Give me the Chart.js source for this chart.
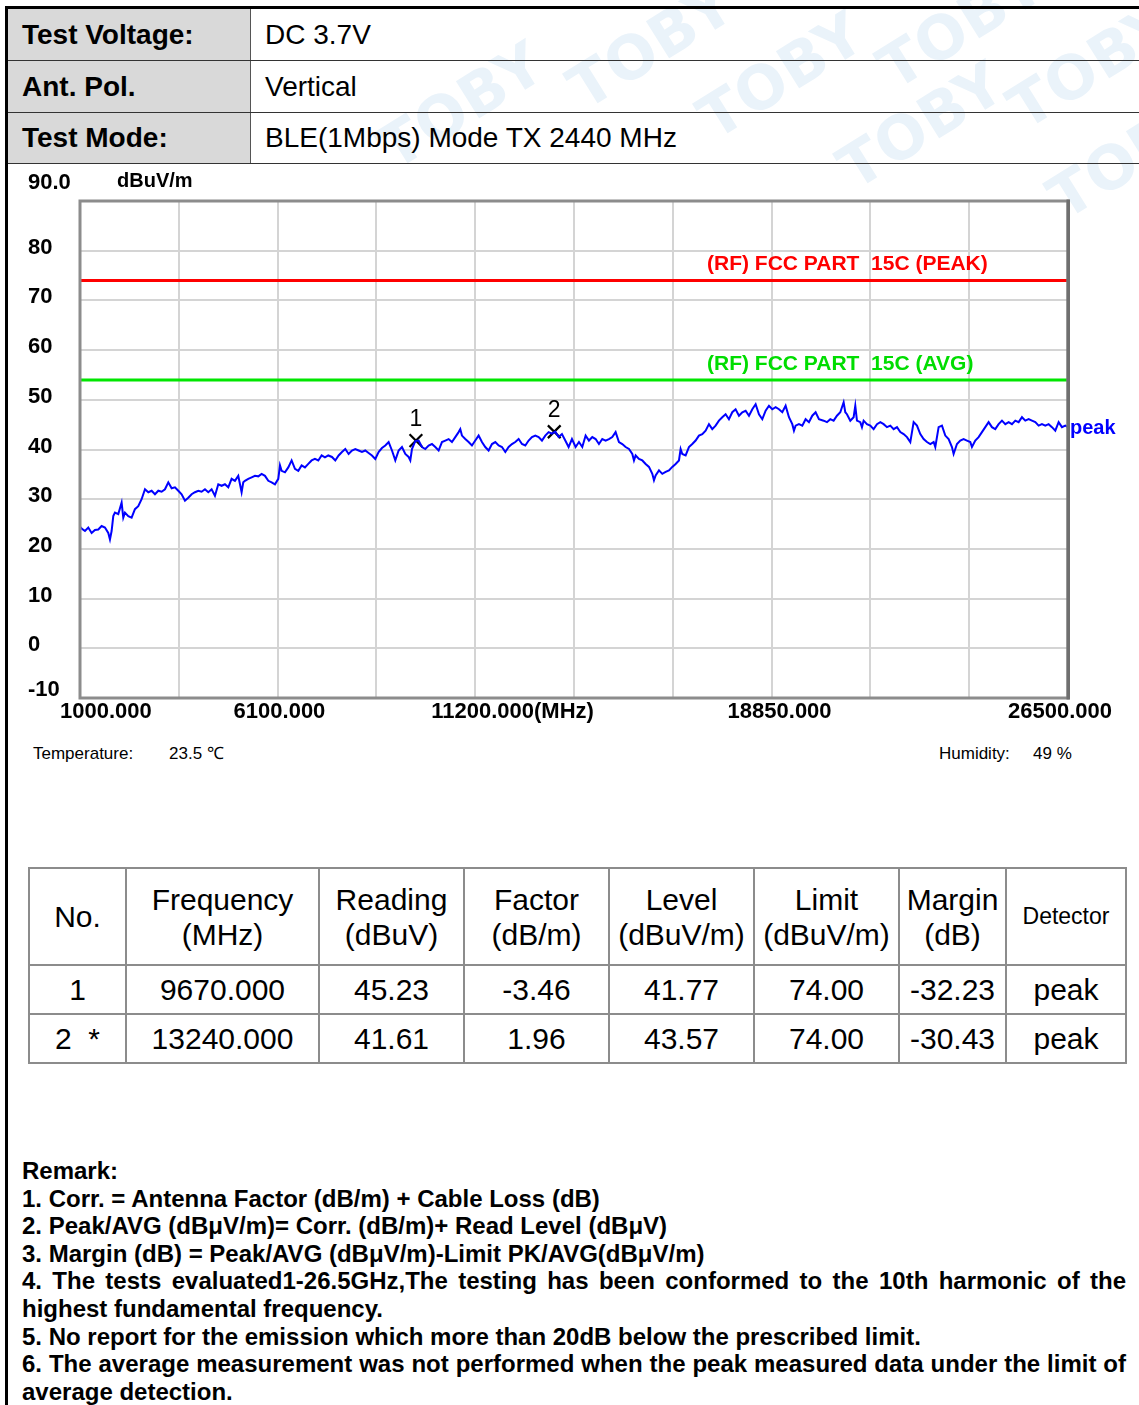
<!DOCTYPE html>
<html>
<head>
<meta charset="utf-8">
<title>Radiated emission - BLE 2440 MHz</title>
<script src="https://cdn.jsdelivr.net/npm/chart.js@4.4.0/dist/chart.umd.min.js"></script>
<style>
  body { margin: 0; width: 1139px; height: 1405px; overflow: hidden; background: #fff; position: relative; font-family: "Liberation Sans", Arial, sans-serif; color: #000; }
  .frame-left { position: absolute; left: 5px; top: 6px; width: 3px; height: 1399px; background: #000; z-index: 5; }
  .frame-top { position: absolute; left: 5px; top: 6px; width: 1134px; height: 3px; background: #000; z-index: 5; }
  .wm { position: absolute; font: bold 60px "DejaVu Sans", sans-serif; color: #eaf3fa; transform: rotate(-32deg); z-index: 0; letter-spacing: 1px; }
  .row { position: absolute; left: 8px; width: 1131px; height: 51px; border-bottom: 1px solid #333; z-index: 1; }
  .row .lab { position: absolute; left: 0; top: 0; width: 228px; height: 51px; padding-left: 14px; background: #d9d9d9; border-right: 1px solid #555; font: bold 28px "Liberation Sans", Arial, sans-serif; line-height: 51px; }
  .row .val { position: absolute; left: 243px; top: 0; padding-left: 14px; font: 28px "Liberation Sans", Arial, sans-serif; line-height: 51px; }
  #chartBox { position: absolute; left: 0; top: 163px; z-index: 2; }
  .env { position: absolute; top: 744px; font: 17px "Liberation Sans", Arial, sans-serif; line-height: 20px; }
  table.res { position: absolute; left: 28px; top: 867px; border-collapse: collapse; font: 30px "Liberation Sans", Arial, sans-serif; }
  table.res td { border: 2px solid #8c8c8c; text-align: center; padding: 0; white-space: pre; }
  table.res tr.head td { height: 95px; line-height: 35px; }
  table.res tr.data td { height: 47px; }
  table.res td.det { font-size: 23px; }
  .remarks { position: absolute; left: 22px; top: 1157px; width: 1104px; font: bold 24px "Liberation Sans", Arial, sans-serif; line-height: 27.6px; }
  .remarks .j { text-align: justify; text-align-last: justify; }
</style>
</head>
<body>
<div class="frame-left"></div>
<div class="frame-top"></div>

<div class="wm" style="left:370px; top:70px;">TOBY</div>
<div class="wm" style="left:560px; top:10px;">TOBY</div>
<div class="wm" style="left:690px; top:40px;">TOBY</div>
<div class="wm" style="left:830px; top:90px;">TOBY</div>
<div class="wm" style="left:870px; top:-10px;">TOBY</div>
<div class="wm" style="left:1000px; top:30px;">TOBY</div>
<div class="wm" style="left:1040px; top:120px;">TOBY</div>

<div class="row" style="top:9px;"><div class="lab">Test Voltage:</div><div class="val">DC 3.7V</div></div>
<div class="row" style="top:61px;"><div class="lab">Ant. Pol.</div><div class="val">Vertical</div></div>
<div class="row" style="top:113px; height:50px;"><div class="lab" style="height:50px; line-height:50px;">Test Mode:</div><div class="val" style="line-height:50px;">BLE(1Mbps) Mode TX 2440 MHz</div></div>

<canvas id="chartBox" width="1139" height="600"></canvas>

<div class="env" style="left:33px;">Temperature:</div>
<div class="env" style="left:169px;">23.5 ℃</div>
<div class="env" style="left:939px;">Humidity:</div>
<div class="env" style="left:1033px;">49 %</div>

<table class="res" id="resTable"></table>

<div class="remarks">
  <div>Remark:</div>
  <div>1. Corr. = Antenna Factor (dB/m) + Cable Loss (dB)</div>
  <div>2. Peak/AVG (dBμV/m)= Corr. (dB/m)+ Read Level (dBμV)</div>
  <div>3. Margin (dB) = Peak/AVG (dBμV/m)-Limit PK/AVG(dBμV/m)</div>
  <div class="j">4. The tests evaluated1-26.5GHz,The testing has been conformed to the 10th harmonic of the</div>
  <div>highest fundamental frequency.</div>
  <div>5. No report for the emission which more than 20dB below the prescribed limit.</div>
  <div class="j">6. The average measurement was not performed when the peak measured data under the limit of</div>
  <div>average detection.</div>
</div>

<script>
// axis range and tick labels
const xMin = 1000;
const xMax = 26500;
const xGridStep = 2550;
const xLabelValues = [1000, 6100, 11200, 18850, 26500];
const xLabelTexts = ["1000.000", "6100.000", "11200.000(MHz)", "18850.000", "26500.000"];
const yMin = -10;
const yMax = 90;
const yLabelValues = [90, 80, 70, 60, 50, 40, 30, 20, 10, 0, -10];
const yLabelTexts = ["90.0", "80", "70", "60", "50", "40", "30", "20", "10", "0", "-10"];

// limit lines (dBuV/m)
const peakLimit = 74;
const avgLimit = 54;

// peak trace: frequency (MHz) and level (dBuV/m)
const freqs = [
  1000, 1042, 1128, 1214, 1300, 1386, 1472, 1558, 1644, 1730, 1773, 1816, 1859, 1902, 1988, 2074, 2117, 2160, 2246, 2332,
  2418, 2504, 2590, 2677, 2763, 2849, 2935, 3021, 3107, 3193, 3279, 3365, 3451, 3537, 3623, 3709, 3795, 3881, 3967, 4053,
  4139, 4225, 4311, 4397, 4483, 4569, 4655, 4741, 4827, 4913, 4999, 5085, 5171, 5214, 5257, 5343, 5430, 5516, 5602, 5688,
  5774, 5860, 5946, 6032, 6118, 6161, 6204, 6290, 6376, 6462, 6548, 6634, 6720, 6806, 6892, 6978, 7064, 7150, 7236, 7322,
  7408, 7503, 7589, 7675, 7761, 7847, 7933, 8019, 8105, 8191, 8277, 8363, 8449, 8535, 8621, 8707, 8793, 8880, 8966, 9052,
  9138, 9224, 9310, 9396, 9482, 9525, 9568, 9654, 9740, 9826, 9912, 9998, 10084, 10170, 10256, 10342, 10428, 10514, 10600, 10686,
  10772, 10815, 10858, 10944, 11030, 11116, 11202, 11288, 11374, 11460, 11546, 11633, 11719, 11805, 11891, 11977, 12063, 12149, 12235, 12321,
  12407, 12493, 12579, 12665, 12751, 12837, 12923, 13009, 13095, 13181, 13267, 13353, 13439, 13525, 13611, 13697, 13792, 13878, 13964, 14050,
  14136, 14222, 14308, 14394, 14480, 14566, 14652, 14738, 14824, 14910, 14996, 15082, 15169, 15255, 15298, 15341, 15427, 15513, 15599, 15685,
  15771, 15814, 15857, 15943, 16029, 16115, 16201, 16287, 16373, 16459, 16502, 16545, 16631, 16717, 16803, 16889, 16975, 17061, 17147, 17233,
  17319, 17405, 17491, 17577, 17663, 17749, 17835, 17921, 18008, 18094, 18180, 18266, 18352, 18438, 18524, 18610, 18696, 18782, 18868, 18954,
  19040, 19126, 19212, 19298, 19384, 19427, 19470, 19556, 19642, 19728, 19814, 19900, 19986, 20072, 20193, 20279, 20365, 20451, 20537, 20623,
  20709, 20752, 20795, 20881, 20967, 21010, 21053, 21139, 21182, 21225, 21311, 21397, 21483, 21570, 21656, 21742, 21828, 21914, 22000, 22086,
  22172, 22258, 22344, 22430, 22516, 22602, 22688, 22774, 22860, 22946, 23032, 23075, 23161, 23247, 23333, 23419, 23505, 23548, 23634, 23720,
  23806, 23892, 23978, 24021, 24107, 24193, 24279, 24365, 24451, 24537, 24623, 24709, 24796, 24882, 24968, 25054, 25140, 25226, 25312, 25398,
  25484, 25570, 25656, 25742, 25828, 25914, 26000, 26086, 26172, 26258, 26344, 26430, 26500
];
const levels = [
  24.5, 24.1, 23.6, 24.3, 23.2, 23.8, 23.9, 24.6, 24.3, 23.2, 21.9, 23.6, 26.6, 27.3, 27.0, 29.3, 26.3, 27.3, 26.6, 26.3,
  28.0, 28.6, 30.0, 32.0, 31.4, 31.7, 31.0, 31.7, 31.5, 32.0, 33.4, 32.2, 32.4, 31.7, 31.0, 29.7, 30.3, 31.0, 31.4, 31.7,
  31.5, 32.0, 31.4, 32.0, 30.7, 33.0, 32.7, 33.0, 32.4, 34.1, 33.7, 34.7, 31.4, 33.4, 33.7, 34.1, 34.4, 34.7, 34.6, 35.1,
  34.7, 33.7, 33.4, 33.0, 34.1, 36.8, 35.7, 35.4, 36.4, 37.8, 36.1, 35.7, 36.8, 36.4, 37.1, 37.8, 38.1, 37.8, 38.8, 38.4,
  38.8, 38.5, 37.8, 38.8, 39.5, 40.1, 39.1, 39.8, 40.1, 39.8, 39.5, 39.8, 39.3, 38.8, 38.1, 39.5, 40.3, 40.8, 41.5, 39.8,
  37.8, 39.8, 40.5, 39.1, 38.5, 37.8, 40.1, 41.7, 41.8, 40.5, 40.1, 40.8, 41.1, 40.5, 39.8, 41.5, 41.8, 42.1, 41.5, 42.5,
  43.5, 44.1, 42.8, 42.1, 41.5, 40.8, 41.8, 42.8, 41.5, 40.5, 39.8, 41.1, 41.5, 40.8, 40.5, 39.5, 40.5, 41.1, 41.5, 42.1,
  41.1, 40.8, 41.8, 42.5, 42.8, 42.5, 41.8, 42.8, 43.5, 43.2, 43.6, 42.5, 43.1, 41.8, 40.5, 42.1, 40.5, 41.5, 40.5, 42.8,
  41.8, 42.5, 42.1, 41.1, 42.1, 41.8, 42.1, 42.5, 43.5, 41.5, 41.1, 40.5, 40.1, 39.1, 37.8, 38.8, 38.1, 37.8, 37.1, 36.5,
  35.1, 33.8, 34.8, 35.8, 35.1, 35.5, 35.8, 36.5, 37.1, 37.8, 40.1, 39.1, 38.8, 40.5, 41.1, 41.8, 42.8, 43.1, 43.8, 45.1,
  44.1, 44.8, 45.8, 46.5, 47.1, 46.1, 47.5, 48.1, 46.8, 47.5, 47.8, 46.8, 48.1, 49.1, 47.1, 46.1, 47.8, 48.8, 48.1, 48.5,
  48.1, 47.5, 48.8, 46.5, 45.1, 43.8, 44.8, 45.1, 44.8, 46.1, 45.5, 46.8, 47.5, 46.1, 45.8, 45.5, 46.1, 45.8, 46.8, 47.5,
  49.5, 47.5, 47.1, 45.8, 46.5, 48.8, 45.8, 45.5, 44.5, 45.8, 45.1, 44.8, 44.1, 45.1, 45.5, 45.1, 44.5, 44.8, 44.1, 44.5,
  43.5, 43.1, 42.5, 41.5, 45.5, 44.8, 43.1, 42.1, 41.5, 41.1, 41.5, 40.5, 44.5, 44.8, 42.8, 42.1, 40.5, 39.1, 41.1, 41.8,
  42.1, 41.8, 41.5, 40.5, 41.8, 42.5, 43.5, 44.5, 45.5, 44.5, 44.1, 45.1, 45.8, 45.1, 45.5, 45.1, 45.8, 45.5, 46.5, 45.8,
  46.1, 45.8, 45.5, 44.8, 45.1, 44.8, 45.1, 44.5, 43.8, 45.5, 44.5, 44.8, 44.5
];

// marker table
const markerNo = ["1", "2"];
const markerFlag = ["", "*"];
const markerFreq = [9670.0, 13240.0];
const markerReading = [45.23, 41.61];
const markerFactor = [-3.46, 1.96];
const markerLevel = [41.77, 43.57];
const markerLimit = [74.0, 74.0];
const markerMargin = [-32.23, -30.43];
const markerDetector = ["peak", "peak"];

const tableHeads = ["No.", "Frequency\n(MHz)", "Reading\n(dBuV)", "Factor\n(dB/m)", "Level\n(dBuV/m)", "Limit\n(dBuV/m)", "Margin\n(dB)", "Detector"];
const colWidths = [97, 193, 145, 145, 145, 145, 107, 120];

// build the results table
const table = document.getElementById("resTable");
let html = '<tr class="head">';
tableHeads.forEach((h, i) => {
  html += `<td style="width:${colWidths[i] - 2}px"${i === 7 ? ' class="det"' : ""}>${h}</td>`;
});
html += "</tr>";
markerNo.forEach((no, i) => {
  html += '<tr class="data">';
  html += `<td>${markerFlag[i] ? no + "  " + markerFlag[i] : no}</td>`;
  html += `<td>${markerFreq[i].toFixed(3)}</td>`;
  html += `<td>${markerReading[i].toFixed(2)}</td>`;
  html += `<td>${markerFactor[i].toFixed(2)}</td>`;
  html += `<td>${markerLevel[i].toFixed(2)}</td>`;
  html += `<td>${markerLimit[i].toFixed(2)}</td>`;
  html += `<td>${markerMargin[i].toFixed(2)}</td>`;
  html += `<td>${markerDetector[i]}</td>`;
  html += "</tr>";
});
table.innerHTML = html;

// frame, axis labels and annotations drawn over the chart
const overlayPlugin = {
  id: "overlay",
  afterDraw(chart) {
    const { ctx, chartArea: a, scales } = chart;
    const x = scales.x;
    const y = scales.y;
    ctx.save();

    // plot frame
    ctx.strokeStyle = "#8c8c8c";
    ctx.lineWidth = 3;
    ctx.strokeRect(a.left, a.top, a.right - a.left, a.bottom - a.top);
    ctx.fillStyle = "#6f6f6f";
    ctx.fillRect(a.right - 1.5, a.top - 1.5, 3.5, a.bottom - a.top + 3);

    // y labels
    ctx.fillStyle = "#000";
    ctx.font = 'bold 22px "Liberation Sans", Arial, sans-serif';
    ctx.textAlign = "left";
    ctx.textBaseline = "middle";
    yLabelValues.forEach((v, i) => {
      let py = y.getPixelForValue(v) - 3;
      if (v === yMax) py -= 15;
      if (v === yMin) py -= 5;
      ctx.fillText(yLabelTexts[i], 28, py);
    });
    ctx.font = 'bold 20px "Liberation Sans", Arial, sans-serif';
    ctx.fillText("dBuV/m", 117, 18);

    // x labels
    ctx.font = 'bold 22px "Liberation Sans", Arial, sans-serif';
    xLabelValues.forEach((v, i) => {
      const w = ctx.measureText(xLabelTexts[i]).width;
      let left = Math.max(x.getPixelForValue(v) - 44, 60);
      if (left + w > 1112) left = 1112 - w;
      ctx.fillText(xLabelTexts[i], left, a.bottom + 14);
    });

    // limit line captions
    ctx.font = 'bold 21px "Liberation Sans", Arial, sans-serif';
    ctx.fillStyle = "#ff0000";
    ctx.fillText("(RF) FCC PART  15C (PEAK)", 707, y.getPixelForValue(peakLimit) - 16);
    ctx.fillStyle = "#00dd00";
    ctx.fillText("(RF) FCC PART  15C (AVG)", 707, y.getPixelForValue(avgLimit) - 16);

    // trace name
    ctx.fillStyle = "#0000ff";
    ctx.font = 'bold 20px "Liberation Sans", Arial, sans-serif';
    ctx.fillText("peak", a.right + 2, y.getPixelForValue(levels[levels.length - 1]) + 1);

    // marker numbers
    ctx.fillStyle = "#000";
    ctx.font = '23px "Liberation Sans", Arial, sans-serif';
    ctx.textAlign = "center";
    markerNo.forEach((no, i) => {
      ctx.fillText(no, x.getPixelForValue(markerFreq[i]), y.getPixelForValue(markerLevel[i]) - 21);
    });
    ctx.restore();
  },
};

const gridStyle = { color: "#d4d4d4", lineWidth: 2, drawTicks: false };

const emissionChart = new Chart(document.getElementById("chartBox"), {
  type: "scatter",
  data: {
    datasets: [
      {
        label: "peak",
        data: freqs.map((f, i) => ({ x: f, y: levels[i] })),
        showLine: true,
        borderColor: "#0000ff",
        borderWidth: 2,
        pointRadius: 0,
        tension: 0,
      },
      {
        label: "(RF) FCC PART 15C (PEAK)",
        data: [{ x: xMin, y: peakLimit }, { x: xMax, y: peakLimit }],
        showLine: true,
        borderColor: "#ff0000",
        borderWidth: 3,
        pointRadius: 0,
      },
      {
        label: "(RF) FCC PART 15C (AVG)",
        data: [{ x: xMin, y: avgLimit }, { x: xMax, y: avgLimit }],
        showLine: true,
        borderColor: "#00e600",
        borderWidth: 3,
        pointRadius: 0,
      },
      {
        label: "markers",
        data: markerFreq.map((f, i) => ({ x: f, y: markerLevel[i] })),
        showLine: false,
        pointStyle: "crossRot",
        pointRadius: 9,
        borderColor: "#000",
        borderWidth: 2.2,
      },
    ],
  },
  options: {
    responsive: false,
    animation: false,
    layout: { padding: { left: 80, right: 71, top: 38, bottom: 65 } },
    plugins: {
      legend: { display: false },
      tooltip: { enabled: false },
    },
    scales: {
      x: {
        type: "linear",
        min: xMin,
        max: xMax,
        ticks: { display: false, stepSize: xGridStep },
        grid: gridStyle,
        border: { display: false },
        afterFit: (s) => { s.height = 0; },
      },
      y: {
        type: "linear",
        min: yMin,
        max: yMax,
        ticks: { display: false, stepSize: 10 },
        grid: gridStyle,
        border: { display: false },
        afterFit: (s) => { s.width = 0; },
      },
    },
  },
  plugins: [overlayPlugin],
});
</script>
</body>
</html>
